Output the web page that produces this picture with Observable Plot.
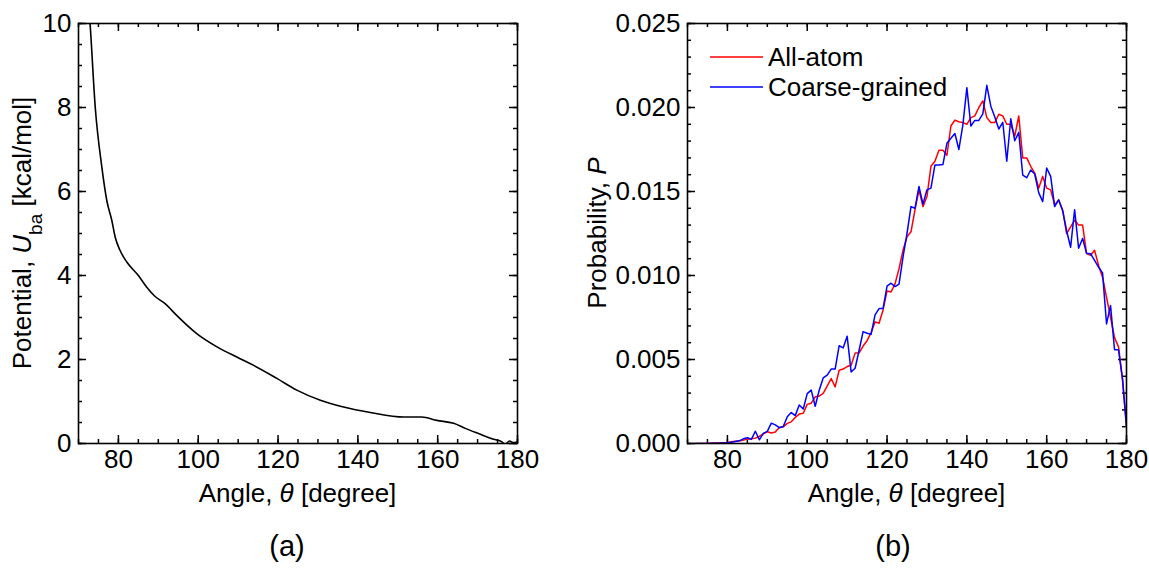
<!DOCTYPE html>
<html><head><meta charset="utf-8">
<script src="https://cdn.jsdelivr.net/npm/d3@7"></script>
<script src="https://cdn.jsdelivr.net/npm/@observablehq/plot@0.6"></script>
<style>
body{margin:0;background:#fff;font-family:"Liberation Sans",Arial,sans-serif;}
#wrap{position:relative;width:1149px;height:571px;overflow:hidden;}
.panel{position:absolute;top:0;}
.cap{position:absolute;top:530px;font-size:29px;width:80px;text-align:center;color:#000;}
</style></head><body><div id="wrap"></div>
<script>
// ---- Panel (a): bond-angle potential ----
const angleA = [72.6, 72.9, 74.2, 75.85, 77.1, 78.35, 79.2, 80.4, 82.1, 85, 87.1, 89.2, 91.7, 94.6, 99.7, 104.7, 110.5, 113.9, 119.7, 124.7, 130.6, 136.4, 143.1, 151.5, 156, 159.8, 164, 166.9, 170.7, 174, 176.1, 176.9, 178, 179, 180];
const potentialA = [10.4, 10, 8.0, 6.58, 5.78, 5.31, 4.91, 4.6, 4.32, 4.0, 3.72, 3.5, 3.33, 3.05, 2.61, 2.3, 2.02, 1.86, 1.55, 1.27, 1.03, 0.87, 0.74, 0.63, 0.63, 0.55, 0.48, 0.36, 0.22, 0.1, 0.04, -0.02, 0.06, 0.02, 0.04];

// ---- Panel (b): angle distributions ----
const angleB = [72,73,74,75,76,77,78,79,
 80,81,82,83,84,85,86,87,88,89,
 90,91,92,93,94,95,96,97,98,99,
 100,101,102,103,104,105,106,107,108,109,
 110,111,112,113,114,115,116,117,118,119,
 120,121,122,123,124,125,126,127,128,129,
 130,131,132,133,134,135,136,137,138,139,
 140,141,142,143,144,145,146,147,148,149,
 150,151,152,153,154,155,156,157,158,159,
 160,161,162,163,164,165,166,167,168,169,
 170,171,172,173,174,175,176,177,178,179,
 180];
const allAtom = [0,0,0,0,0.00002,0.00003,0.00003,0.00004,
 0.00005,0.0001,0.00014,0.00017,0.0002,0.00026,0.00028,0.00032,0.00042,0.00058,
 0.0007,0.00062,0.00068,0.00095,0.00099,0.0012,0.00129,0.00155,0.00175,0.0018,
 0.00233,0.0024,0.00278,0.00282,0.00298,0.00342,0.00387,0.00337,0.00436,0.00443,
 0.00458,0.00466,0.00538,0.0054,0.0058,0.00612,0.0066,0.00724,0.00716,0.00795,
 0.00908,0.00902,0.0095,0.0104,0.0115,0.0123,0.0126,0.0139,0.0151,0.0141,
 0.0147,0.0165,0.0168,0.01745,0.01745,0.01715,0.0189,0.01925,0.01915,0.0191,
 0.019,0.0194,0.0195,0.02,0.0204,0.0194,0.0191,0.0191,0.0196,0.0195,
 0.019,0.019,0.0183,0.0195,0.017,0.017,0.0165,0.0161,0.0152,0.0159,
 0.0152,0.0151,0.0142,0.0145,0.0139,0.0125,0.0129,0.0133,0.013,0.013,
 0.0113,0.0112,0.0115,0.0106,0.0099,0.0087,0.0075,0.0063,0.00575,0.0038,
 0.001];
const coarse = [0,0,0,0,0.00001,0.00002,0.00002,0.00003,
 0.00004,0.00008,0.00012,0.00016,0.00028,0.00034,0.00025,0.00073,0.00022,0.0006,
 0.00072,0.00121,0.00111,0.00094,0.00101,0.00159,0.00184,0.00166,0.00229,0.00205,
 0.00297,0.00318,0.00222,0.00317,0.0039,0.00407,0.00443,0.00443,0.00582,0.00569,
 0.00639,0.00426,0.00448,0.00555,0.00666,0.00656,0.0065,0.00766,0.00803,0.00803,
 0.00937,0.00954,0.00934,0.00949,0.0111,0.0125,0.0141,0.014,0.0153,0.01425,
 0.0151,0.0152,0.01658,0.01658,0.0166,0.01787,0.01817,0.01845,0.0175,0.01897,
 0.02118,0.0189,0.01923,0.01923,0.01962,0.02132,0.02008,0.01943,0.01872,0.01912,
 0.0168,0.01933,0.01802,0.01852,0.01598,0.01582,0.01628,0.01604,0.01493,0.0144,
 0.0164,0.0159,0.0141,0.0145,0.01386,0.01265,0.01168,0.01392,0.01162,0.0122,
 0.01132,0.0113,0.0109,0.0105,0.01015,0.00712,0.00822,0.00558,0.00558,0.00385,
 0.001];
const seriesNames = ["All-atom", "Coarse-grained"];
const seriesColors = ["#ff0000", "#0000ff"];

// ---- Tick values ----
const xMajor = [80, 100, 120, 140, 160, 180];
const xMinor = [70,75,80,85,90,95,100,105,110,115,120,125,130,135,140,145,150,155,160,165,170,175,180];
const yMajorA = [0, 2, 4, 6, 8, 10];
const yMinorA = [0,0.5,1,1.5,2,2.5,3,3.5,4,4.5,5,5.5,6,6.5,7,7.5,8,8.5,9,9.5,10];
const yMajorB = [0, 0.005, 0.01, 0.015, 0.02, 0.025];
const yMinorB = [0,0.001,0.002,0.003,0.004,0.005,0.006,0.007,0.008,0.009,0.01,0.011,0.012,0.013,0.014,0.015,0.016,0.017,0.018,0.019,0.02,0.021,0.022,0.023,0.024,0.025];

const FONT = "Liberation Sans, Arial, sans-serif";
const FS = 26;
const H = 520, MT = 23, MB = 77;
const innerH = H - MT - MB;
const MAJ = 8, MIN = 4;

function inwardTicks(xMaj, xMin, yMaj, yMin, innerW) {
  const s = {stroke: "#000", strokeWidth: 1.5};
  return [
    Plot.ruleX(xMaj, {x: d => d, insetTop: innerH - MAJ, ...s}),
    Plot.ruleX(xMaj, {x: d => d, insetBottom: innerH - MAJ, ...s}),
    Plot.ruleX(xMin, {x: d => d, insetTop: innerH - MIN, ...s}),
    Plot.ruleX(xMin, {x: d => d, insetBottom: innerH - MIN, ...s}),
    Plot.ruleY(yMaj, {y: d => d, insetRight: innerW - MAJ, ...s}),
    Plot.ruleY(yMaj, {y: d => d, insetLeft: innerW - MAJ, ...s}),
    Plot.ruleY(yMin, {y: d => d, insetRight: innerW - MIN, ...s}),
    Plot.ruleY(yMin, {y: d => d, insetLeft: innerW - MIN, ...s})
  ];
}

const wrap = document.getElementById("wrap");

// Panel (a)
const WA = 560, MLA = 78, MRA = 43;
const dataA = angleA.map((a, i) => ({angle: a, u: potentialA[i]}));
const plotA = Plot.plot({
  width: WA, height: H, marginLeft: MLA, marginRight: MRA, marginTop: MT, marginBottom: MB,
  style: {fontFamily: FONT, fontSize: FS + "px", color: "#000", background: "transparent", overflow: "visible"},
  x: {domain: [70, 180]},
  y: {domain: [0, 10]},
  marks: [
    Plot.axisX({ticks: xMajor, tickSize: 0, tickPadding: 6, label: null, fontSize: FS}),
    Plot.axisY({ticks: yMajorA, tickSize: 0, tickPadding: 7, label: null, fontSize: FS}),
    ...inwardTicks(xMajor, xMinor, yMajorA, yMinorA, WA - MLA - MRA),
    Plot.line(dataA, {x: "angle", y: "u", stroke: "#000", strokeWidth: 1.6, curve: "monotone-x", clip: true}),
    Plot.frame({stroke: "#000", strokeWidth: 1.6})
  ]
});
plotA.classList.add("panel");
plotA.style.left = "0px";
wrap.appendChild(plotA);

// Panel (b)
const WB = 589, MLB = 127, MRB = 23;
const dataB = [];
angleB.forEach((a, i) => {
  dataB.push({angle: a, p: allAtom[i], series: seriesNames[0]});
});
angleB.forEach((a, i) => {
  dataB.push({angle: a, p: coarse[i], series: seriesNames[1]});
});
const plotB = Plot.plot({
  width: WB, height: H, marginLeft: MLB, marginRight: MRB, marginTop: MT, marginBottom: MB,
  style: {fontFamily: FONT, fontSize: FS + "px", color: "#000", background: "transparent", overflow: "visible"},
  x: {domain: [70, 180]},
  y: {domain: [0, 0.025]},
  color: {domain: seriesNames, range: seriesColors},
  marks: [
    Plot.axisX({ticks: xMajor, tickSize: 0, tickPadding: 6, label: null, fontSize: FS}),
    Plot.axisY({ticks: yMajorB, tickSize: 0, tickPadding: 7, tickFormat: d3.format(".3f"), label: null, fontSize: FS}),
    ...inwardTicks(xMajor, xMinor, yMajorB, yMinorB, WB - MLB - MRB),
    Plot.line(dataB, {x: "angle", y: "p", z: "series", stroke: "series", strokeWidth: 1.5, clip: true}),
    Plot.frame({stroke: "#000", strokeWidth: 1.6})
  ]
});
plotB.classList.add("panel");
plotB.style.left = "560px";
wrap.appendChild(plotB);

// Rich-text axis titles
function addText(svg, x, y, parts, rotate) {
  const t = d3.select(svg).append("text")
    .attr("x", x).attr("y", y)
    .attr("text-anchor", "middle")
    .attr("font-family", FONT).attr("font-size", FS).attr("fill", "#000");
  if (rotate) t.attr("transform", `rotate(-90,${x},${y})`);
  parts.forEach(p => {
    const s = t.append("tspan").text(p.t);
    if (p.i) s.attr("font-style", "italic");
    if (p.sub) s.attr("baseline-shift", "sub").attr("font-size", 19);
  });
}
addText(plotA, (MLA + WA - MRA) / 2, 502, [{t: "Angle, "}, {t: "θ", i: true}, {t: " [degree]"}]);
addText(plotB, (MLB + WB - MRB) / 2, 502, [{t: "Angle, "}, {t: "θ", i: true}, {t: " [degree]"}]);
addText(plotA, 31, 233, [{t: "Potential, "}, {t: "U", i: true}, {t: "ba", sub: true}, {t: " [kcal/mol]"}], true);
addText(plotB, 46, 233, [{t: "Probability, "}, {t: "P", i: true}], true);

// Legend in panel (b)
const lg = d3.select(plotB).append("g").attr("font-family", FONT).attr("font-size", FS).attr("text-anchor", "start");
seriesNames.forEach((name, i) => {
  const y = 57 + i * 30;
  lg.append("line").attr("x1", 150).attr("x2", 203).attr("y1", y).attr("y2", y)
    .attr("stroke", seriesColors[i]).attr("stroke-width", 1.5);
  lg.append("text").attr("x", 208).attr("y", y).attr("dy", "0.35em").attr("text-anchor", "start").attr("fill", "#000").text(name);
});

// Panel captions
[["(a)", 247], ["(b)", 853]].forEach(([t, x]) => {
  const d = document.createElement("div");
  d.className = "cap"; d.style.left = x + "px"; d.textContent = t;
  wrap.appendChild(d);
});
</script>
</body></html>
